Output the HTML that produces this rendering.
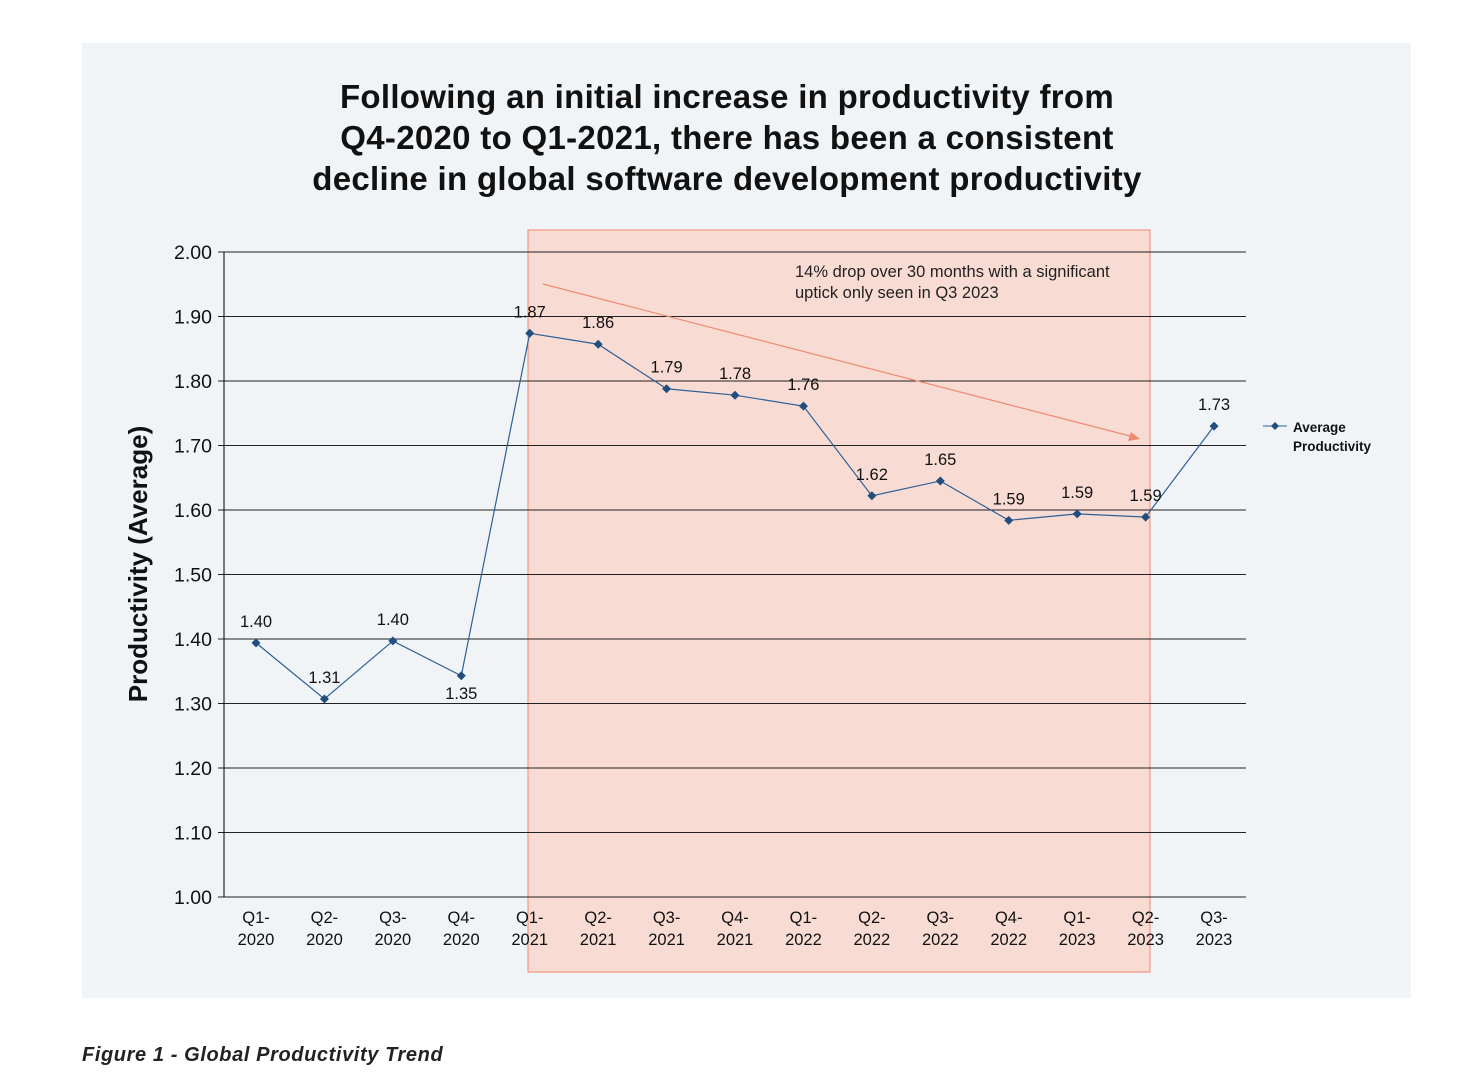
<!DOCTYPE html>
<html><head><meta charset="utf-8"><style>
body{margin:0;background:#fff;width:1466px;height:1080px;overflow:hidden;font-family:"Liberation Sans",sans-serif}
</style></head><body>
<svg width="1466" height="1080" xmlns="http://www.w3.org/2000/svg" font-family="Liberation Sans, sans-serif">
<rect x="82" y="43" width="1329" height="955" fill="#f0f4f7"/>
<text x="727" y="108" text-anchor="middle" font-size="33" letter-spacing="0.3" font-weight="bold" fill="#111">Following an initial increase in productivity from</text>
<text x="727" y="149" text-anchor="middle" font-size="33" letter-spacing="0.3" font-weight="bold" fill="#111">Q4-2020 to Q1-2021, there has been a consistent</text>
<text x="727" y="190" text-anchor="middle" font-size="33" letter-spacing="0.3" font-weight="bold" fill="#111">decline in global software development productivity</text>
<rect x="528" y="230" width="622" height="742" fill="#f8dbd3" stroke="#f08a70" stroke-width="1"/>
<g id="grid"></g>
<line x1="224" y1="252" x2="224" y2="897" stroke="#000"/>
<text transform="translate(147,564) rotate(-90)" text-anchor="middle" font-size="26" font-weight="bold" fill="#111">Productivity (Average)</text>
<line x1="543" y1="284" x2="1134" y2="437" stroke="#f08a70" stroke-width="1.2"/>
<polygon points="1140,439 1128,441 1131,432" fill="#f08a70"/>
<text x="795" y="277" font-size="16.5" fill="#222">14% drop over 30 months with a significant</text>
<text x="795" y="298" font-size="16.5" fill="#222">uptick only seen in Q3 2023</text>
<g id="series"></g>
<g id="xlabels"></g>
<line x1="1263" y1="426" x2="1287" y2="426" stroke="#2e6096"/>
<polygon points="1275,422 1279,426 1275,430 1271,426" fill="#1f4e7f"/>
<text x="1293" y="432" font-size="13.5" font-weight="bold" fill="#111">Average</text>
<text x="1293" y="451" font-size="13.5" font-weight="bold" fill="#111">Productivity</text>
<text x="82" y="1061" font-size="20" letter-spacing="0.6" font-weight="bold" font-style="italic" fill="#222">Figure 1 - Global Productivity Trend</text>
</svg>
<script>
const categories=["Q1-2020","Q2-2020","Q3-2020","Q4-2020","Q1-2021","Q2-2021","Q3-2021","Q4-2021","Q1-2022","Q2-2022","Q3-2022","Q4-2022","Q1-2023","Q2-2023","Q3-2023"];
const values=[1.394,1.307,1.397,1.343,1.874,1.857,1.788,1.778,1.761,1.622,1.645,1.584,1.594,1.589,1.730];
const labels=["1.40","1.31","1.40","1.35","1.87","1.86","1.79","1.78","1.76","1.62","1.65","1.59","1.59","1.59","1.73"];
const labelBelow=[false,false,false,true,false,false,false,false,false,false,false,false,false,false,false];
const yTicks=[1.0,1.1,1.2,1.3,1.4,1.5,1.6,1.7,1.8,1.9,2.0];
const NS="http://www.w3.org/2000/svg";
const yS=v=>897-(v-1)*645;
const xS=i=>256+i*68.43;
function mk(t,a,p){const e=document.createElementNS(NS,t);for(const k in a)e.setAttribute(k,a[k]);p.appendChild(e);return e;}
const grid=document.getElementById('grid');
yTicks.forEach(v=>{
 const l=mk('line',{x1:218,x2:1246,y1:yS(v),y2:yS(v),stroke:'#222','stroke-width':1},grid);
 
 
 const t=mk('text',{x:212,y:yS(v)+7,'text-anchor':'end','font-size':19.5,fill:'#111'},grid);
 t.textContent=v.toFixed(2);
 
 
});
const s=document.getElementById('series');
const line=mk('polyline',{points:values.map((v,i)=>xS(i)+','+yS(v)).join(' '),fill:'none',stroke:'#2e6096','stroke-width':1.2},s);


values.forEach((v,i)=>{
 const x=xS(i),y=yS(v);
 const m=mk('polygon',{points:`${x},${y-4.5} ${x+4.5},${y} ${x},${y+4.5} ${x-4.5},${y}`,fill:'#1f4e7f'},s);
 
 
 const t=mk('text',{x:x,y:labelBelow[i]?y+23:y-16,'text-anchor':'middle','font-size':16.5,fill:'#111'},s);
 t.textContent=labels[i];
 
 
});
const xl=document.getElementById('xlabels');
categories.forEach((c,i)=>{
 const p=c.split('-');
 const t1=mk('text',{x:xS(i),y:923,'text-anchor':'middle','font-size':16.5,fill:'#111'},xl);
 t1.textContent=p[0]+'-';
 
 
 const t2=mk('text',{x:xS(i),y:945,'text-anchor':'middle','font-size':16.5,fill:'#111'},xl);
 t2.textContent=p[1];
 
 
});
</script>
</body></html>
